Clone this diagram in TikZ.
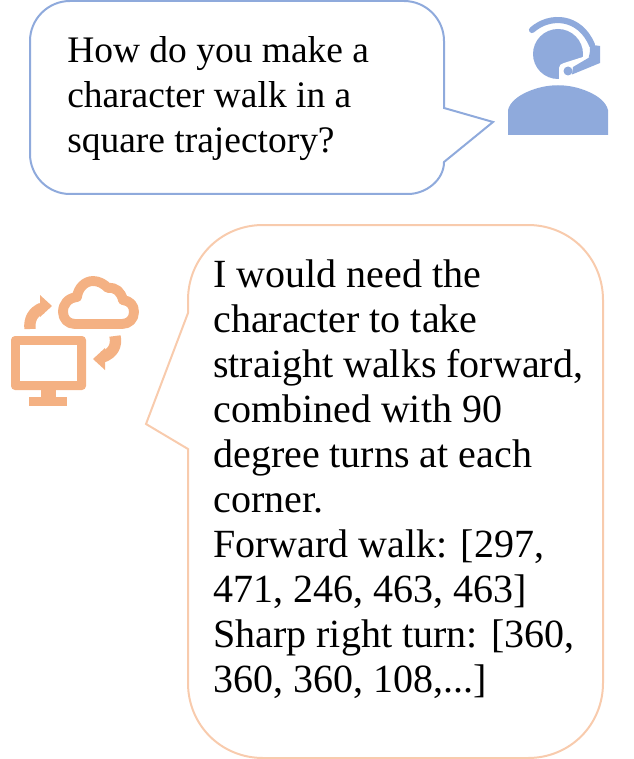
\documentclass[tikz,border=0pt]{standalone}
\usepackage{fontspec}
\setmainfont{Liberation Serif}
\definecolor{userblue}{HTML}{8FAADC}
\definecolor{botorange}{HTML}{F4B183}
\definecolor{botline}{HTML}{F8CBAD}
\tikzset{
  bubbletext/.style={anchor=north west,inner sep=0pt,align=left},
  bubbleline/.style={line width=1.5pt,line join=miter},
  iconline/.style={line width=7.4pt,draw=botorange,line join=round},
  iconarrow/.style={line width=8.5pt,draw=botorange}
}
\begin{document}
\begin{tikzpicture}[x=0.75pt,y=-0.75pt]
  \useasboundingbox (0,0) rectangle (633,759);
  % user bubble
  \draw[bubbleline,draw=userblue] (70,1) -- (404,1) .. controls (426,1) and (444,19) .. (444,41) -- (444,108)
    -- (493,122) -- (444,162) .. controls (444,180) and (426,194) .. (408,194) -- (70,194)
    .. controls (48,194) and (30,176) .. (30,154) -- (30,41) .. controls (30,19) and (48,1) .. (70,1) -- cycle;
  \node[bubbletext,font=\fontsize{28.1pt}{33.75pt}\selectfont] (question) at (67,36) {How do you make a\\character walk in a\\square trajectory?};
  % user icon
  \fill[userblue] (558,54) circle (25);
  \fill[white] (559,82) -- (559,68) .. controls (559,65) and (561,64) .. (564,63) -- (586,56) -- (590,82) -- cycle;
  \draw[userblue,line width=4.6pt,line cap=round] (532,30) .. controls (550,14) and (580,16) .. (592,45);
  \draw[userblue,line width=3.6pt] (592,45) .. controls (593,50) and (592,54) .. (591,58);
  \fill[userblue] (593,45) -- (600,46) -- (600,63) -- (572,74.5) -- (573,67) -- (590,57) -- cycle;
  \fill[userblue] (568,71) circle (4.5);
  \fill[userblue] (508,135) -- (508,110) .. controls (510,102) and (518,96) .. (527,92)
    .. controls (547,83) and (569,83) .. (589,92) .. controls (598,96) and (606,102) .. (608,110) -- (608,135) -- cycle;
  % bot bubble
  \draw[bubbleline,draw=botline] (263,225) -- (528,225) .. controls (570,225) and (603,258) .. (603,300) -- (603,683)
    .. controls (603,725) and (570,758) .. (528,758) -- (263,758) .. controls (221,758) and (188,725) .. (188,683)
    -- (188,449) -- (146,424) -- (188,313) -- (188,300) .. controls (188,258) and (221,225) .. (263,225) -- cycle;
  \node[bubbletext,font=\fontsize{30pt}{33.75pt}\selectfont] (answer) at (213,259) {I would need the\\character to take\\straight walks forward,\\combined with 90\\degree turns at each\\corner.\\Forward walk: [297,\\471, 246, 463, 463]\\Sharp right turn: [360,\\360, 360, 108,...]};
  % bot icon
  \fill[botorange,rounded corners=3pt] (11,336) rectangle (86,390);
  \fill[white] (20,345) rectangle (77,381);
  \fill[botorange] (41,390) rectangle (56,397);
  \fill[botorange] (29,397) rectangle (67,406);
  \draw[iconline] (75,324) -- (122,324) .. controls (129,324) and (134,319) .. (134,312)
    .. controls (134,305) and (130,301) .. (123,300) .. controls (121,292) and (116,287) .. (108,288)
    .. controls (104,284) and (99,281) .. (93,281) .. controls (85,281) and (78,288) .. (77,297)
    .. controls (68,298) and (63,304) .. (63,312) .. controls (63,319) and (68,324) .. (75,324) -- cycle;
  \draw[iconarrow] (30,329) .. controls (29,319) and (33,312) .. (42,308);
  \fill[botorange] (40,295) -- (52,306) -- (40,317) -- cycle;
  \draw[iconarrow] (115,336) .. controls (117,346) and (113,353) .. (103,357);
  \fill[botorange] (105,348) -- (93,359) -- (105,370) -- cycle;
\end{tikzpicture}
\end{document}
